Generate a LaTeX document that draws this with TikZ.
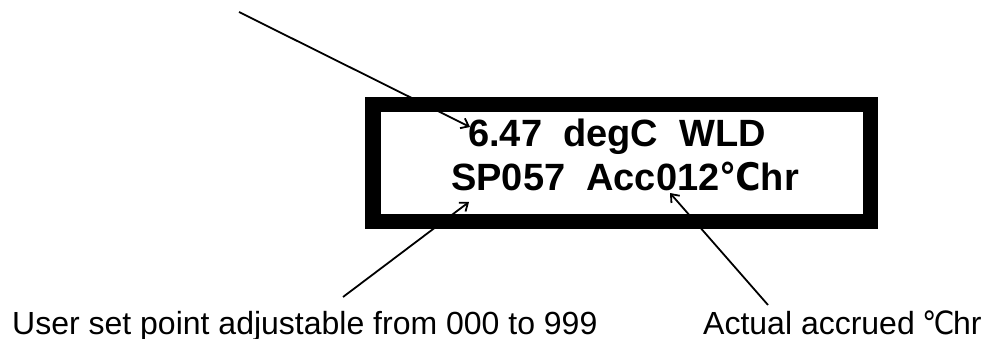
\documentclass[tikz,border=0pt]{standalone}
\usepackage{fontspec}
\setmainfont{Liberation Sans}
\newfontfamily\degfont{DejaVu Sans Condensed}
\usetikzlibrary{arrows.meta}
\newcommand{\degC}{{\degfont ℃}}
\newcommand{\tightdegC}{\kern-1.5pt{\degfont ℃}\kern-1.5pt}
\begin{document}
\begin{tikzpicture}[x=1pt,y=-1pt,
  lcd/.style={draw=black,line width=15.5pt},
  lcdtext/.style={anchor=base west,inner sep=0pt,font=\fontsize{38}{43}\selectfont\bfseries},
  note/.style={anchor=base west,inner sep=0pt,font=\fontsize{32}{38}\selectfont},
  pointer/.style={draw=black,line width=1.8pt,-{Straight Barb[length=7pt,width=11pt,line width=1.8pt]}}]
  \useasboundingbox (0,0) rectangle (992,339);
  % display frame
  \draw[lcd] (373,104.5) rectangle (870.5,221.5);
  % display contents
  \node[lcdtext] (row1) at (468,147) {6.47\ \ degC\ \ WLD};
  \node[lcdtext] (row2) at (451,190) {SP057\ \ Acc012\degC hr};
  % captions
  \node[note] (spnote) at (12,334) {User set point adjustable from 000 to 999};
  \node[note] (accnote) at (703,334) {Actual accrued \tightdegC hr};
  % pointer ends
  \coordinate (topfree) at (239,12);
  \coordinate (toptip) at (470,127);
  \coordinate (spfree) at (343,297);
  \coordinate (sptip) at (469,202);
  \coordinate (accfree) at (768,305);
  \coordinate (acctip) at (670,193);
  \draw[pointer] (topfree) -- (toptip);
  \draw[pointer] (spfree) -- (sptip);
  \draw[pointer] (accfree) -- (acctip);
\end{tikzpicture}
\end{document}
